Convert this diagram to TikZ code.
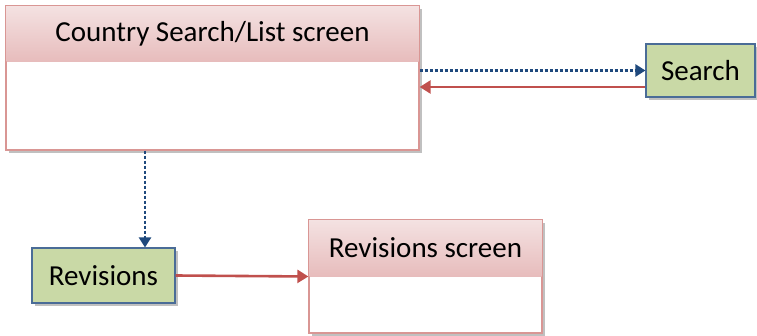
\documentclass[tikz,border=0pt]{standalone}
\usepackage{fontspec}
\setmainfont{Carlito}
\usetikzlibrary{arrows.meta,shadows}

\definecolor{screenline}{HTML}{D99694}
\definecolor{headtop}{HTML}{F4E2E2}
\definecolor{headbot}{HTML}{E7BCBC}
\definecolor{actfill}{HTML}{C9D9A6}
\definecolor{actline}{HTML}{4A6C97}
\definecolor{navblue}{HTML}{1F497D}
\definecolor{navred}{HTML}{C0504D}

\begin{document}
\begin{tikzpicture}[x=1pt,y=-1pt,
    every node/.style={font=\fontsize{29}{34}\selectfont,inner sep=0pt},
    boxshadow/.style={drop shadow={shadow xshift=3pt,shadow yshift=-3pt,opacity=0.45,fill=black!55}},
    screen/.style={draw=screenline,line width=1.3pt,fill=white,boxshadow},
    screenhead/.style={top color=headtop,bottom color=headbot,anchor=north},
    action/.style={draw=actline,line width=1.1pt,fill=actfill,boxshadow},
    callarrow/.style={navblue,line width=2.3pt,dash pattern=on 3.2pt off 1.8pt,-{Triangle[width=12pt,length=10pt]}},
    returnarrow/.style={navred,line width=2.6pt,-{Triangle[width=13pt,length=11pt]}}]
    \useasboundingbox (0,0) rectangle (757,336);
    % screens
    \node[screen,minimum width=413pt,minimum height=144pt] (list) at (212.5,78) {};
    \node[screenhead,minimum width=412pt,minimum height=56pt] (listhead) at (list.north) {Country Search/List screen};
    \draw[screenline,line width=1.3pt] (list.north west) rectangle (list.south east);
    \node[screen,minimum width=233pt,minimum height=113pt] (revscreen) at (425.5,276.5) {};
    \node[screenhead,minimum width=232pt,minimum height=57pt] (revhead) at (revscreen.north) {Revisions screen};
    \draw[screenline,line width=1.3pt] (revscreen.north west) rectangle (revscreen.south east);
    % actions
    \node[action,minimum width=109pt,minimum height=53pt] (search) at (700.5,70.5) {Search};
    \node[action,minimum width=143pt,minimum height=55pt] (rev) at (103.5,275.5) {Revisions};
    % links
    \coordinate (searchback) at ([yshift=-16.5pt]search.west);
    \coordinate (revin) at ([xshift=41.5pt]rev.north);
    \draw[callarrow] (search.west -| list.east) -- (search.west);
    \draw[returnarrow] (searchback) -- (searchback -| list.east);
    \draw[callarrow] (revin |- list.south) -- (revin);
    \draw[returnarrow] (rev.east) -- (revscreen.west);
\end{tikzpicture}
\end{document}
